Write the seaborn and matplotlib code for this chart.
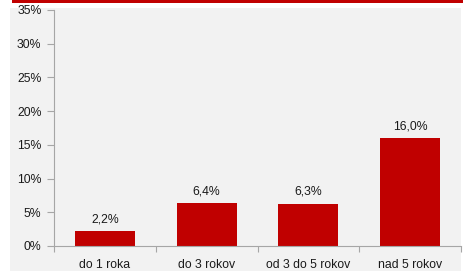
import matplotlib
matplotlib.use("Agg")
import matplotlib.pyplot as plt
from matplotlib.patches import Rectangle
from matplotlib.ticker import FixedLocator
import seaborn as sns
import pandas as pd

categories = ["do 1 roka", "do 3 rokov", "od 3 do 5 rokov", "nad 5 rokov"]
values = [2.2, 6.4, 6.3, 16.0]
value_labels = ["2,2%", "6,4%", "6,3%", "16,0%"]
y_ticks = [0, 5, 10, 15, 20, 25, 30, 35]
y_tick_labels = ["0%", "5%", "10%", "15%", "20%", "25%", "30%", "35%"]

sns.set_style("white")
plt.rcParams["font.family"] = ["Liberation Sans", "DejaVu Sans"]

W, H = 468, 271
fig = plt.figure(figsize=(W / 100, H / 100), dpi=100, facecolor="white")

bg = "#f2f2f2"
r1 = Rectangle((10 / W, 0), 451 / W, 263 / H, transform=fig.transFigure,
               facecolor=bg, edgecolor="none", zorder=-10)
r2 = Rectangle((12 / W, 268 / H), 451 / W, 3 / H, transform=fig.transFigure,
               facecolor="#c00000", edgecolor="none", zorder=-9)
fig.add_artist(r1)
fig.add_artist(r2)

ax = fig.add_axes([54 / W, 25 / H, 407 / W, 236 / H])
ax.set_zorder(5)
ax.set_facecolor(bg)

df = pd.DataFrame({"cat": categories, "val": values})
sns.barplot(data=df, x="cat", y="val", color="#c00000", saturation=1, width=0.59,
            linewidth=0, ax=ax)

fs = 8.8
for i, (v, lab) in enumerate(zip(values, value_labels)):
    ax.annotate(lab, (i, v), xytext=(0, 4), textcoords="offset points",
                ha="center", va="bottom", fontsize=fs, color="#1a1a1a")

ax.set_xlim(-0.5, 3.5)
ax.set_ylim(0, 35)
ax.set_yticks(y_ticks)
ax.set_yticklabels(y_tick_labels)
ax.set_xlabel("")
ax.set_ylabel("")

ax.xaxis.set_minor_locator(FixedLocator([-0.5, 0.5, 1.5, 2.5, 3.5]))
ax.tick_params(axis="x", which="major", length=0, pad=9, labelsize=fs, colors="#1a1a1a")
ax.tick_params(axis="x", which="minor", length=4, width=0.8, color="#a6a6a6", bottom=True)
ax.tick_params(axis="y", which="major", length=5, width=0.8, color="#a6a6a6", pad=4,
               labelsize=fs, labelcolor="#1a1a1a", left=True)

for s in ["top", "right"]:
    ax.spines[s].set_visible(False)
for s in ["left", "bottom"]:
    ax.spines[s].set_color("#a6a6a6")
    ax.spines[s].set_linewidth(0.8)

fig.savefig("out.png", dpi=100, facecolor="white")
